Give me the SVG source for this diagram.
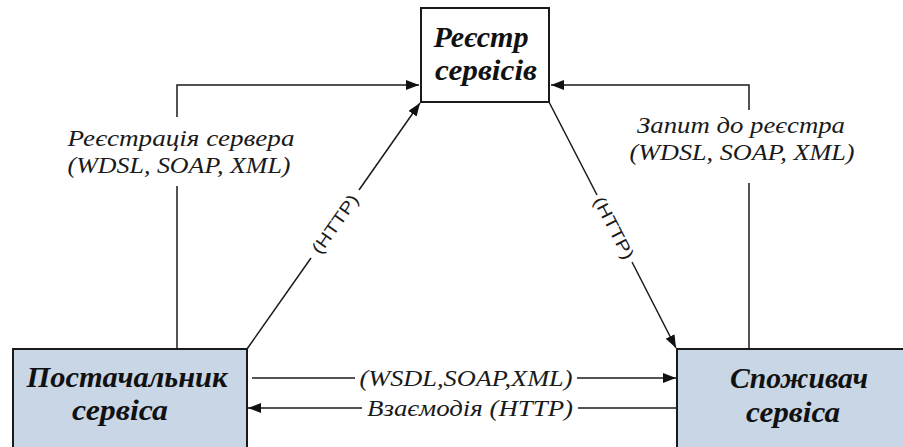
<svg xmlns="http://www.w3.org/2000/svg" width="903" height="447" viewBox="0 0 903 447">
<style>
.box{stroke:#1a1a1a;stroke-width:2}
.reg{fill:#ffffff}
.blue{fill:#c9d6e5}
.node{font-family:"Liberation Serif","Times New Roman",serif;font-style:italic;font-weight:bold;font-size:30px;fill:#111;text-anchor:middle}
.lbl{font-family:"Liberation Serif","Times New Roman",serif;font-style:italic;font-size:24px;fill:#1a1a1a;text-anchor:middle}
.http{font-family:"Liberation Sans",Arial,sans-serif;font-size:17px;fill:#1a1a1a;text-anchor:middle}
.ln{fill:none;stroke:#1a1a1a;stroke-width:1.5}
</style>
<defs>
<marker id="ah" markerUnits="userSpaceOnUse" markerWidth="14" markerHeight="10" refX="13" refY="5" orient="auto">
<path d="M0,0 L13,5 L0,10 z" fill="#111"/>
</marker>
</defs>
<rect width="903" height="447" fill="#ffffff"/>
<g id="connectors">
<path class="ln" d="M177,117 V85 H419" marker-end="url(#ah)"/>
<path class="ln" d="M177,186 V349"/>
<path class="ln" d="M749,110 V85 H551" marker-end="url(#ah)"/>
<path class="ln" d="M749,183 V349"/>
<path class="ln" d="M247,349 L311,258"/>
<path class="ln" d="M359,190 L420,103" marker-end="url(#ah)"/>
<text class="http" transform="translate(335,224) rotate(-54.8)" dy="0.35em" textLength="68" lengthAdjust="spacingAndGlyphs">(HTTP)</text>
<path class="ln" d="M549,102 L597,195"/>
<path class="ln" d="M632,262 L676,348" marker-end="url(#ah)"/>
<text class="http" transform="translate(614,228) rotate(62.6)" dy="0.35em" textLength="68" lengthAdjust="spacingAndGlyphs">(HTTP)</text>
<path class="ln" d="M252,378 H355"/>
<path class="ln" d="M577,378 H676" marker-end="url(#ah)"/>
<path class="ln" d="M677,408 H578"/>
<path class="ln" d="M362,408 H248" marker-end="url(#ah)"/>
<text class="lbl" x="466" y="386" textLength="213" lengthAdjust="spacingAndGlyphs">(WSDL,SOAP,XML)</text>
<text class="lbl" x="470" y="416" textLength="206" lengthAdjust="spacingAndGlyphs">Взаємодія (HTTP)</text>
<text class="lbl" x="181" y="146" textLength="227" lengthAdjust="spacingAndGlyphs">Реєстрація сервера</text>
<text class="lbl" x="179" y="173" textLength="223" lengthAdjust="spacingAndGlyphs">(WDSL, SOAP, XML)</text>
<text class="lbl" x="741" y="133" textLength="208" lengthAdjust="spacingAndGlyphs">Запит до реєстра</text>
<text class="lbl" x="742" y="160" textLength="225" lengthAdjust="spacingAndGlyphs">(WDSL, SOAP, XML)</text>
</g>
<g id="registry">
<rect class="box reg" x="421" y="8" width="128" height="94"/>
<text class="node" x="481" y="47" textLength="95" lengthAdjust="spacingAndGlyphs">Реєстр</text>
<text class="node" x="486" y="80" textLength="102" lengthAdjust="spacingAndGlyphs">сервісів</text>
</g>
<g id="provider">
<rect class="box blue" x="13" y="349" width="234" height="120"/>
<text class="node" x="127" y="387" textLength="201" lengthAdjust="spacingAndGlyphs">Постачальник</text>
<text class="node" x="120" y="420" textLength="96" lengthAdjust="spacingAndGlyphs">сервіса</text>
</g>
<g id="consumer">
<rect class="box blue" x="677" y="349" width="240" height="120"/>
<text class="node" x="799" y="388" textLength="138" lengthAdjust="spacingAndGlyphs">Споживач</text>
<text class="node" x="793" y="422" textLength="94" lengthAdjust="spacingAndGlyphs">сервіса</text>
</g>
</svg>
